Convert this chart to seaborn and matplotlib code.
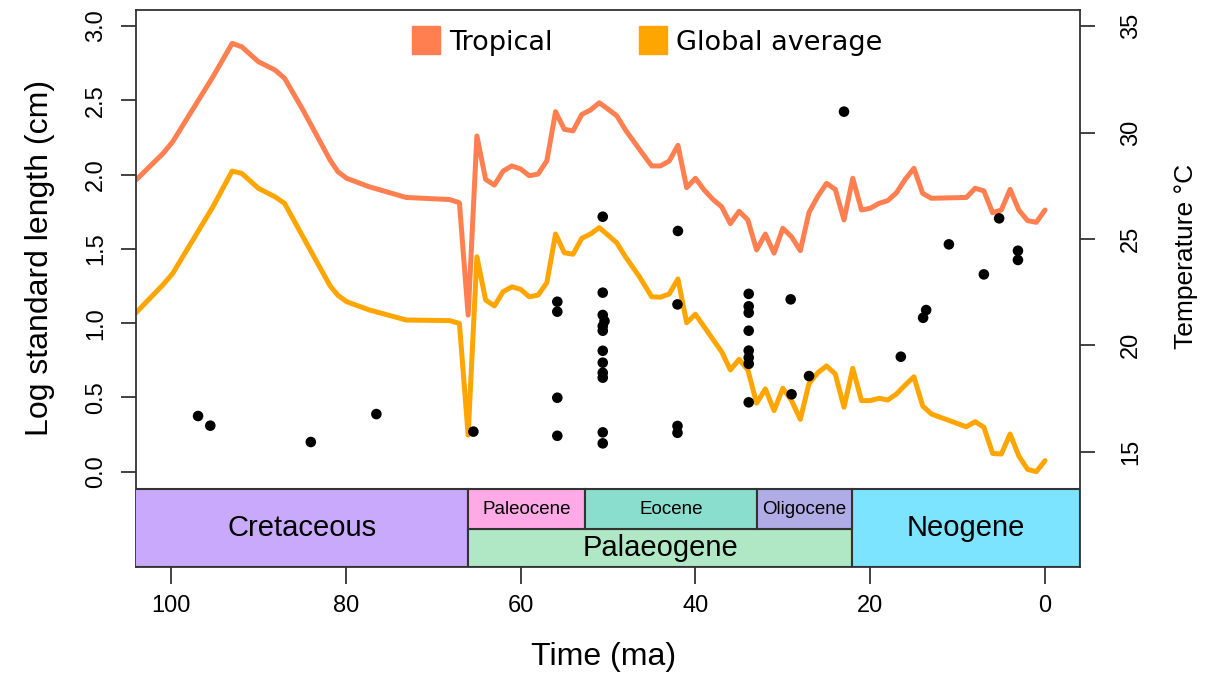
import matplotlib
matplotlib.use("Agg")
import matplotlib.pyplot as plt
import numpy as np
import pandas as pd
import seaborn as sns
from matplotlib.patches import Rectangle
from matplotlib.lines import Line2D

# ---------------- data ----------------
time_ma = [104.0, 100.9, 99.8, 95.2, 93.0, 91.9, 90.0, 88.1, 87.0, 84.9, 81.8, 80.9, 79.9,
           77.3, 73.1, 68.1, 67.0, 66.0, 65.0, 64.0, 63.0, 62.0, 61.0, 60.0, 59.0, 58.0,
           57.0, 56.0, 55.0, 54.0, 53.0, 52.0, 51.0, 50.0, 49.0, 48.0, 46.4, 45.0, 44.0,
           43.0, 42.0, 41.0, 40.0, 39.0, 38.0, 37.0, 36.0, 35.0, 34.0, 33.0, 32.0, 31.0,
           30.0, 29.0, 28.0, 27.0, 26.0, 25.0, 24.0, 23.0, 22.0, 21.0, 20.0, 19.0, 18.0,
           17.0, 16.0, 15.0, 14.0, 13.0, 9.0, 8.0, 7.0, 6.0, 5.0, 4.0, 3.0, 2.0, 1.0, 0.0]

tropical_temp = [27.77, 29.02, 29.57, 32.62, 34.19, 34.03, 33.33, 32.94, 32.55, 31.06, 28.71,
                 28.16, 27.85, 27.45, 26.95, 26.85, 26.70, 21.42, 29.84, 27.80, 27.53, 28.19,
                 28.43, 28.29, 27.97, 28.05, 28.67, 30.98, 30.15, 30.08, 30.85, 31.06, 31.40,
                 31.10, 30.79, 30.12, 29.21, 28.43, 28.43, 28.66, 29.40, 27.41, 27.85, 27.30,
                 26.86, 26.51, 25.72, 26.30, 25.89, 24.48, 25.23, 24.33, 25.50, 25.10, 24.45,
                 26.25, 27.00, 27.61, 27.33, 25.89, 27.85, 26.36, 26.44, 26.67, 26.80, 27.17,
                 27.80, 28.32, 27.14, 26.91, 26.95, 27.38, 27.26, 26.23, 26.36, 27.33, 26.36,
                 25.86, 25.78, 26.36]

global_temp = [21.53, 22.85, 23.38, 26.51, 28.19, 28.08, 27.38, 26.98, 26.67, 25.10, 22.80,
               22.35, 22.05, 21.66, 21.19, 21.16, 21.03, 15.78, 24.16, 22.13, 21.85, 22.52,
               22.75, 22.63, 22.28, 22.36, 22.94, 25.23, 24.35, 24.28, 25.03, 25.23, 25.53,
               25.18, 24.82, 24.16, 23.22, 22.28, 22.26, 22.41, 23.12, 21.06, 21.46, 20.87,
               20.28, 19.70, 18.84, 19.34, 18.84, 17.28, 17.95, 16.93, 17.98, 17.40, 16.52,
               18.21, 18.71, 19.03, 18.65, 17.09, 18.92, 17.40, 17.40, 17.51, 17.43, 17.71,
               18.13, 18.52, 17.15, 16.77, 16.17, 16.41, 16.15, 14.92, 14.89, 15.83, 14.80,
               14.17, 14.06, 14.58]

fossil_age = [96.9, 95.5, 84.0, 76.5, 65.4,
              55.8, 55.8, 55.8, 55.8,
              50.6, 50.6, 50.6, 50.4, 50.6, 50.6, 50.6, 50.6, 50.6, 50.6, 50.6, 50.6,
              42.0, 42.05, 42.05, 42.05,
              33.9, 33.9, 33.9, 33.9, 33.9, 33.9, 33.9, 33.9,
              29.1, 29.0, 27.0, 23.0, 16.5, 13.95, 13.6, 11.0, 7.0, 5.25, 3.1, 3.1]
log_length = [0.375, 0.31, 0.20, 0.388, 0.27,
              1.144, 1.077, 0.498, 0.242,
              1.716, 1.205, 1.055, 1.014, 0.98, 0.949, 0.814, 0.734, 0.666, 0.633, 0.265, 0.191,
              1.62, 1.126, 0.308, 0.262,
              1.197, 1.113, 1.07, 0.949, 0.815, 0.768, 0.726, 0.467,
              1.16, 0.521, 0.644, 2.423, 0.774, 1.036, 1.088, 1.53, 1.328, 1.705, 1.487, 1.425]

period_names = ["Cretaceous", "Palaeogene", "Neogene"]
period_start = [145.0, 66.0, 22.1]
period_end = [66.0, 22.1, 0.0]
period_colors = ["#C9A9FC", "#B0E8C6", "#7DE4FF"]

epoch_names = ["Paleocene", "Eocene", "Oligocene"]
epoch_start = [66.0, 52.6, 32.9]
epoch_end = [52.6, 32.9, 22.1]
epoch_colors = ["#FFAAE6", "#8ADECE", "#AFACE6"]

series_names = ["Tropical", "Global average"]
series_colors = ["#FF7F50", "#FFA500"]

x_ticks = [100, 80, 60, 40, 20, 0]
left_ticks = [0.0, 0.5, 1.0, 1.5, 2.0, 2.5, 3.0]
right_ticks = [15, 20, 25, 30, 35]

# ---------------- style ----------------
sns.set_theme(style="white")
plt.rcParams["font.family"] = ["Liberation Sans", "DejaVu Sans"]
plt.rcParams["text.color"] = "black"
plt.rcParams["axes.labelcolor"] = "black"
plt.rcParams["xtick.color"] = "black"
plt.rcParams["ytick.color"] = "black"
EDGE = "#333333"

W, H = 1207, 675
fig = plt.figure(figsize=(W / 100, H / 100), dpi=100)
ax = fig.add_axes([136 / W, 1 - 567 / H, (1080 - 136) / W, (567 - 10) / H])
ax.set_facecolor("white")

XLIM = (104, -4)
ax.set_xlim(*XLIM)
ax.set_ylim(9.58, 35.76)

# temperature curves (primary axes, right ticks)
temp_df = pd.DataFrame({
    "time": time_ma * 2,
    "temp": tropical_temp + global_temp,
    "series": [series_names[0]] * len(time_ma) + [series_names[1]] * len(time_ma),
})
sns.lineplot(data=temp_df, x="time", y="temp", hue="series", hue_order=series_names,
             palette=dict(zip(series_names, series_colors)), estimator=None,
             linewidth=3.6, legend=False, ax=ax)
ax.set_xlabel("")
ax.set_ylabel("")

# log length axis (twin, left ticks)
ax2 = ax.twinx()
ax2.set_ylim(-0.641, 3.107)
ax2.set_xlim(*XLIM)

pts = pd.DataFrame({"age": fossil_age, "length": log_length})
sns.scatterplot(data=pts, x="age", y="length", color="black", s=58, edgecolor="none",
                ax=ax2, zorder=5)
ax2.set_xlabel("")
ax2.set_ylabel("")

# geological time scale inside the plot region
ts_top, ts_mid, ts_bot = -0.118, -0.388, -0.641
for name, s, e, c in zip(period_names, period_start, period_end, period_colors):
    e_draw = XLIM[1] if e == 0.0 else e
    full = name != "Palaeogene"
    y0 = ts_bot
    h = (ts_top if full else ts_mid) - ts_bot
    ax2.add_patch(Rectangle((s, y0), e_draw - s, h, facecolor=c, edgecolor=EDGE,
                            linewidth=1.5, zorder=3, clip_on=True))
    vs, ve = min(s, XLIM[0]), max(e_draw, XLIM[1])
    ax2.text((vs + ve) / 2, y0 + h / 2, name, ha="center", va="center",
             fontsize=21, zorder=4, color="black")
for name, s, e, c in zip(epoch_names, epoch_start, epoch_end, epoch_colors):
    ax2.add_patch(Rectangle((s, ts_mid), e - s, ts_top - ts_mid, facecolor=c,
                            edgecolor=EDGE, linewidth=1.5, zorder=3))
    ax2.text((s + e) / 2, (ts_mid + ts_top) / 2, name, ha="center", va="center",
             fontsize=13.5, zorder=4, color="black")

# axes, ticks
ax.set_xticks(x_ticks)
ax.set_xticklabels([str(v) for v in x_ticks])
ax.set_yticks(right_ticks)
ax.set_yticklabels([str(v) for v in right_ticks])
ax.yaxis.tick_right()
ax2.set_yticks(left_ticks)
ax2.set_yticklabels([f"{v:.1f}" for v in left_ticks])
ax2.yaxis.tick_left()

ax.tick_params(axis="x", bottom=True, length=12, width=1.3, color=EDGE, pad=8,
               labelsize=17, labelcolor="black")
ax.tick_params(axis="y", right=True, left=False, labelright=True, labelleft=False,
               length=11, width=1.3, color=EDGE, pad=18, labelsize=17, labelcolor="black")
ax2.tick_params(axis="y", left=True, right=False, labelleft=True, labelright=False,
                length=11, width=1.3, color=EDGE, pad=10, labelsize=17, labelcolor="black")
for lbl in ax2.get_yticklabels():
    lbl.set_rotation(90)
    lbl.set_va("center")
    lbl.set_ha("right")
for lbl in ax.get_yticklabels():
    lbl.set_rotation(90)
    lbl.set_va("center")
    lbl.set_ha("left")

for sp in ax.spines.values():
    sp.set_visible(True)
    sp.set_color(EDGE)
    sp.set_linewidth(1.3)
for sp in ax2.spines.values():
    sp.set_visible(False)

# axis titles
fig.text(40 / W, 1 - 258 / H, "Log standard length (cm)", rotation=90, ha="center",
         va="center", fontsize=23, color="black")
fig.text(1186 / W, 1 - 256 / H, "Temperature °C", rotation=90, ha="center",
         va="center", fontsize=19, color="black")
fig.text(604 / W, 1 - 657 / H, "Time (ma)", ha="center", va="center", fontsize=23,
         color="black")

# legend
handles = [Line2D([], [], marker="s", linestyle="none", markersize=19.5,
                  markerfacecolor=c, markeredgecolor=c) for c in series_colors]
leg = ax2.legend(handles, series_names, ncol=2, loc="center",
                 bbox_to_anchor=(0.542, 0.941), frameon=False, handlelength=1.0,
                 handletextpad=0.35, columnspacing=3.2,
                 prop={"family": "DejaVu Sans", "size": 19.5})
for t in leg.get_texts():
    t.set_color("black")

fig.savefig("out.png", dpi=100, facecolor="white")
